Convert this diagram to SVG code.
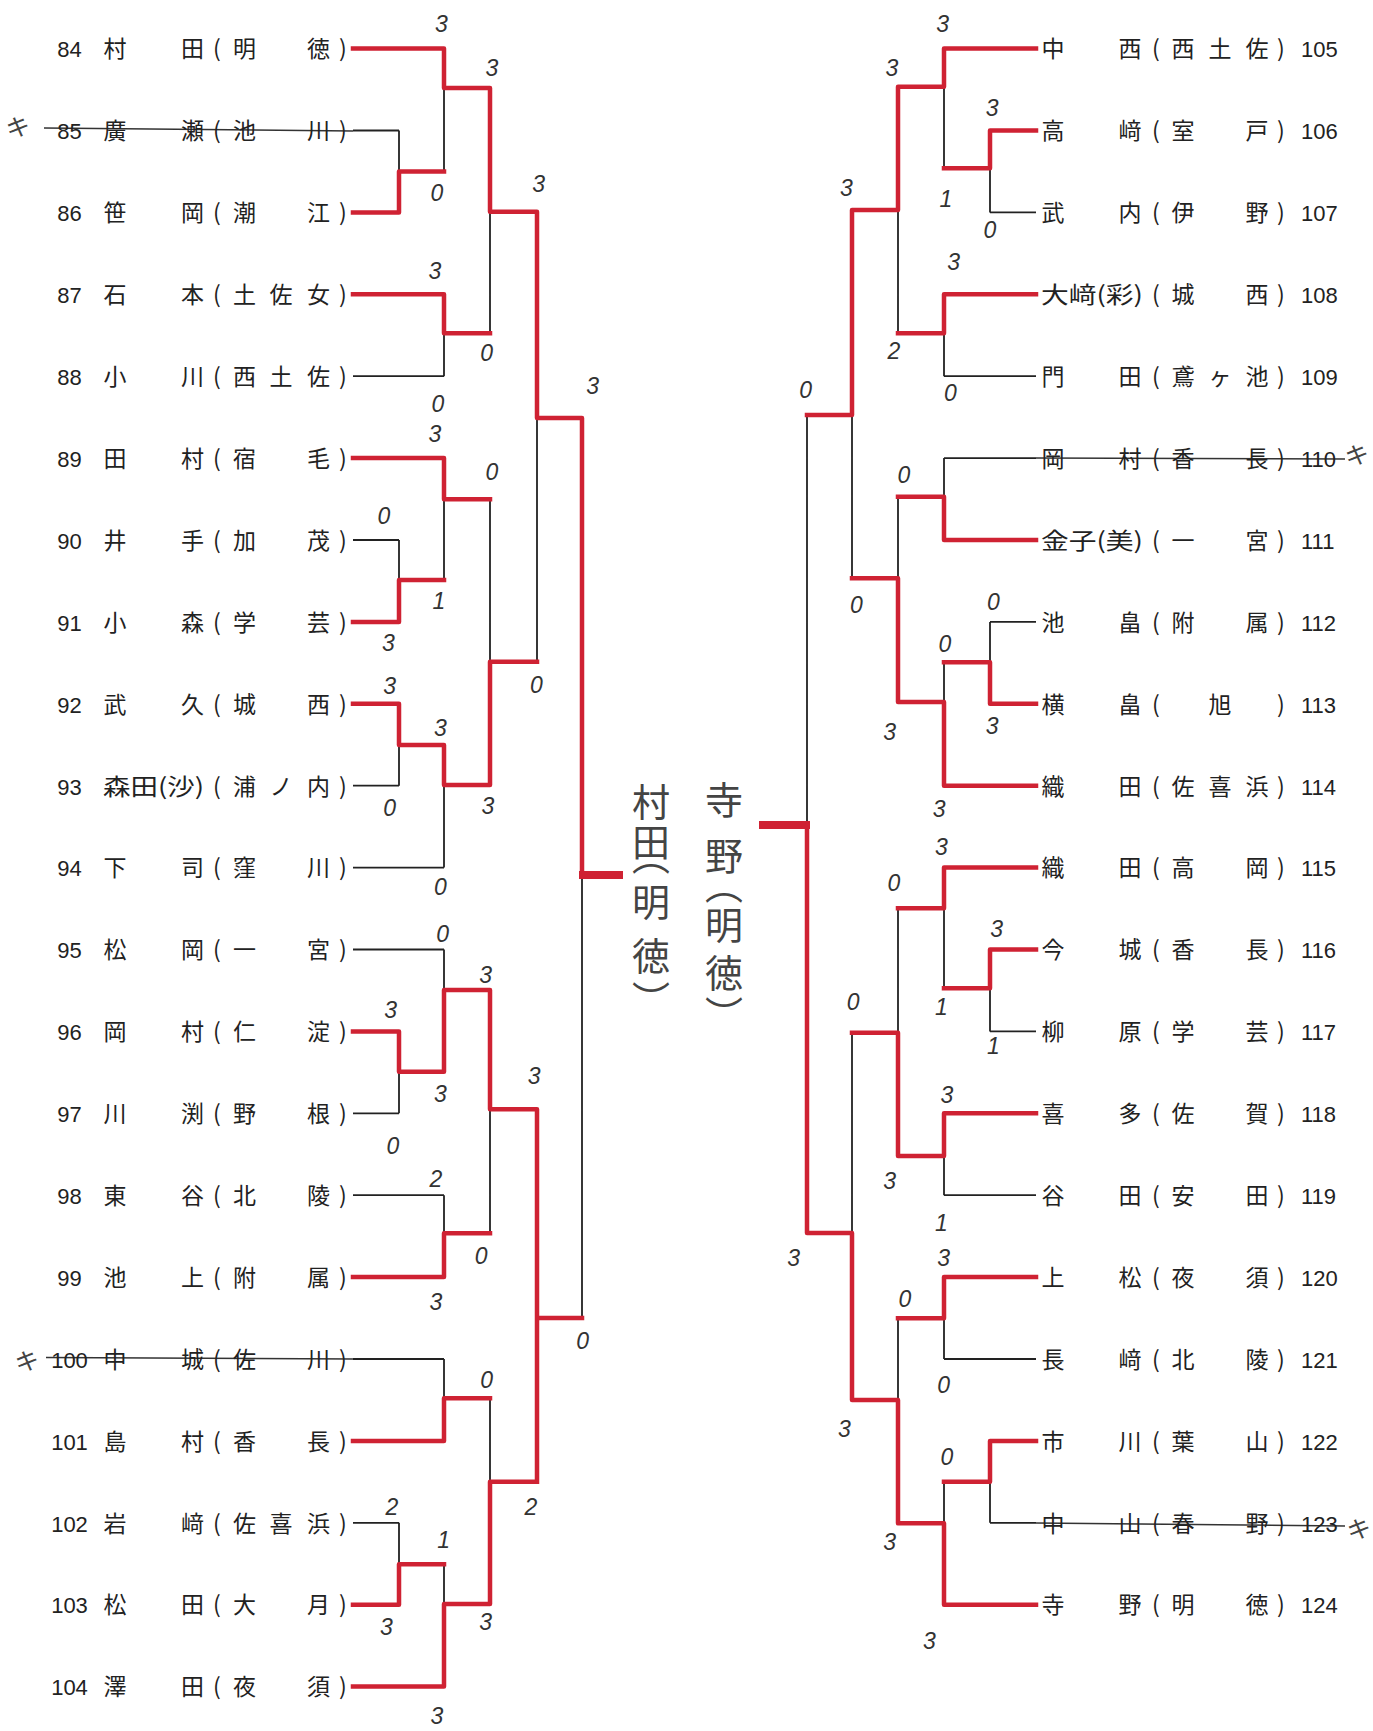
<svg xmlns="http://www.w3.org/2000/svg" width="1373" height="1731" viewBox="0 0 1373 1731">
<style>
.t{font-family:"Noto Sans CJK JP","Noto Sans",sans-serif;font-size:23px;fill:#222;text-anchor:middle}
.num{font-family:"Liberation Sans",Arial,sans-serif;font-size:22px}
.rn{text-anchor:start}
.k{fill:none;stroke:#222;stroke-width:1.8}
.st{fill:none;stroke:#333;stroke-width:1.5}
.r{fill:none;stroke:#cf2233;stroke-width:4.5;stroke-linejoin:round;stroke-linecap:square}
.rf{fill:none;stroke:#cf2233;stroke-width:8}
.sc{font-family:"Liberation Sans",Arial,sans-serif;font-style:italic;font-size:23px;fill:#333;text-anchor:middle}
.ki{font-family:"Noto Sans CJK JP",sans-serif;font-size:24px;fill:#444;text-anchor:middle}
.hwv{font-family:"Noto Sans CJK JP",sans-serif;font-size:38px;fill:#444;text-anchor:middle;writing-mode:vertical-rl}
</style>
<rect width="1373" height="1731" fill="#fff"/>

<g id="connectors">
<path class="k" d="M353 48.6H444M353 130.5H399M353 212.4H399M353 294.3H444M353 376.2H444M353 458.1H444M353 540H399M353 621.9H399M353 703.8H399M353 785.7H399M353 867.6H444M353 949.5H444M353 1031.4H399M353 1113.3H399M353 1195.2H444M353 1277.1H444M353 1359H444M353 1440.9H444M353 1522.8H399M353 1604.7H399M353 1686.6H444
M399 130.5V212.4M399 171.5H444M444 48.6V171.5M444 88H490M444 294.3V376.2M444 333.3H490M490 88V333.3M490 211.7H537
M399 540V621.9M399 580H444M444 458.1V580M444 499.3H490M399 703.8V785.7M399 745H444M444 745V867.6M444 785H490M490 499.3V785M490 661.7H537M537 211.7V661.7M537 418H582M582 418V1318
M399 1031.4V1113.3M399 1071.7H444M444 949.5V1071.7M444 990H490M444 1195.2V1277.1M444 1233.3H490M490 990V1233.3M490 1109.3H537
M444 1359V1440.9M444 1398.3H490M399 1522.8V1604.7M399 1564.3H444M444 1564.3V1686.6M444 1604H490M490 1398.3V1604M490 1481.7H537M537 1109.3V1481.7M537 1318H582"/>
<path class="k" d="M1036 48.6H944M1036 130.5H990M1036 212.4H990M1036 294.3H944M1036 376.2H944M1036 458.1H944M1036 540H944M1036 621.9H990M1036 703.8H990M1036 785.7H944M1036 867.6H944M1036 949.5H990M1036 1031.4H990M1036 1113.3H944M1036 1195.2H944M1036 1277.1H944M1036 1359H944M1036 1440.9H990M1036 1522.8H990M1036 1604.7H944
M990 130.5V212.4M990 168.3H944M944 48.6V168.3M944 86.7H898M944 294.3V376.2M944 333.3H898M898 86.7V333.3M898 210H852
M944 458.1V540M944 496.7H898M990 621.9V703.8M990 662.3H944M944 662.3V785.7M944 702H898M898 496.7V702M898 578.3H852M852 210V578.3M852 415H807M807 415V1233
M990 949.5V1031.4M990 988.3H944M944 867.6V988.3M944 908.3H898M944 1113.3V1195.2M944 1156H898M898 908.3V1156M898 1032.7H852
M944 1277.1V1359M944 1318.3H898M990 1440.9V1522.8M990 1481.7H944M944 1481.7V1604.7M944 1523.3H898M898 1318.3V1523.3M898 1400H852M852 1032.7V1400M852 1233H807"/>
<path class="st" d="M44 128L353 131M46 1357.5L353 1359M1036 458L1345 459M1036 1523L1345 1526"/>
<path class="r" d="M353 48.6H444V88H490V211.7H537V418H582V875
M353 212.4H399V171.5H444
M353 294.3H444V333.3H490
M353 458.1H444V499.3H490
M353 621.9H399V580H444
M353 703.8H399V745H444V785H490V661.7H537
M353 1031.4H399V1071.7H444V990H490V1109.3H537V1481.7
M537 1318H582
M353 1277.1H444V1233.3H490
M353 1440.9H444V1398.3H490
M353 1604.7H399V1564.3H444
M353 1686.6H444V1604H490V1481.7H537"/>
<path class="r" d="M1036 48.6H944V86.7H898V210H852V415H807
M1036 130.5H990V168.3H944
M1036 294.3H944V333.3H898
M1036 540H944V496.7H898
M1036 703.8H990V662.3H944
M1036 785.7H944V702H898V578.3H852
M1036 867.6H944V908.3H898
M1036 949.5H990V988.3H944
M1036 1113.3H944V1156H898V1032.7H852
M1036 1277.1H944V1318.3H898
M1036 1440.9H990V1481.7H944
M1036 1604.7H944V1523.3H898V1400H852V1233H807V825"/>
<path class="rf" d="M579 875H623M810 825H759"/>
</g>

<g id="left-teams">
<g id="n84"><text class="t" y="57"><tspan class="num" x="69.5">84</tspan><tspan x="115">村</tspan><tspan x="192.5">田</tspan><tspan x="217">(</tspan><tspan x="244.5">明</tspan><tspan x="318.5">徳</tspan><tspan x="343">)</tspan></text></g>
<g id="n85"><text class="t" y="139"><tspan class="num" x="69.5">85</tspan><tspan x="115">廣</tspan><tspan x="192.5">瀬</tspan><tspan x="217">(</tspan><tspan x="244.5">池</tspan><tspan x="318.5">川</tspan><tspan x="343">)</tspan></text></g>
<g id="n86"><text class="t" y="221"><tspan class="num" x="69.5">86</tspan><tspan x="115">笹</tspan><tspan x="192.5">岡</tspan><tspan x="217">(</tspan><tspan x="244.5">潮</tspan><tspan x="318.5">江</tspan><tspan x="343">)</tspan></text></g>
<g id="n87"><text class="t" y="303"><tspan class="num" x="69.5">87</tspan><tspan x="115">石</tspan><tspan x="192.5">本</tspan><tspan x="217">(</tspan><tspan x="244.5">土</tspan><tspan x="281">佐</tspan><tspan x="318.5">女</tspan><tspan x="343">)</tspan></text></g>
<g id="n88"><text class="t" y="385"><tspan class="num" x="69.5">88</tspan><tspan x="115">小</tspan><tspan x="192.5">川</tspan><tspan x="217">(</tspan><tspan x="244.5">西</tspan><tspan x="281">土</tspan><tspan x="318.5">佐</tspan><tspan x="343">)</tspan></text></g>
<g id="n89"><text class="t" y="467"><tspan class="num" x="69.5">89</tspan><tspan x="115">田</tspan><tspan x="192.5">村</tspan><tspan x="217">(</tspan><tspan x="244.5">宿</tspan><tspan x="318.5">毛</tspan><tspan x="343">)</tspan></text></g>
<g id="n90"><text class="t" y="549"><tspan class="num" x="69.5">90</tspan><tspan x="115">井</tspan><tspan x="192.5">手</tspan><tspan x="217">(</tspan><tspan x="244.5">加</tspan><tspan x="318.5">茂</tspan><tspan x="343">)</tspan></text></g>
<g id="n91"><text class="t" y="630.5"><tspan class="num" x="69.5">91</tspan><tspan x="115">小</tspan><tspan x="192.5">森</tspan><tspan x="217">(</tspan><tspan x="244.5">学</tspan><tspan x="318.5">芸</tspan><tspan x="343">)</tspan></text></g>
<g id="n92"><text class="t" y="712.5"><tspan class="num" x="69.5">92</tspan><tspan x="115">武</tspan><tspan x="192.5">久</tspan><tspan x="217">(</tspan><tspan x="244.5">城</tspan><tspan x="318.5">西</tspan><tspan x="343">)</tspan></text></g>
<g id="n93"><text class="t" y="794.5"><tspan class="num" x="69.5">93</tspan></text><text class="t" x="103" y="794.5" style="text-anchor:start" textLength="101" lengthAdjust="spacingAndGlyphs">森田(沙)</text><text class="t" y="794.5"><tspan x="217">(</tspan><tspan x="244.5">浦</tspan><tspan x="281">ノ</tspan><tspan x="318.5">内</tspan><tspan x="343">)</tspan></text></g>
<g id="n94"><text class="t" y="876"><tspan class="num" x="69.5">94</tspan><tspan x="115">下</tspan><tspan x="192.5">司</tspan><tspan x="217">(</tspan><tspan x="244.5">窪</tspan><tspan x="318.5">川</tspan><tspan x="343">)</tspan></text></g>
<g id="n95"><text class="t" y="958"><tspan class="num" x="69.5">95</tspan><tspan x="115">松</tspan><tspan x="192.5">岡</tspan><tspan x="217">(</tspan><tspan x="244.5">一</tspan><tspan x="318.5">宮</tspan><tspan x="343">)</tspan></text></g>
<g id="n96"><text class="t" y="1040"><tspan class="num" x="69.5">96</tspan><tspan x="115">岡</tspan><tspan x="192.5">村</tspan><tspan x="217">(</tspan><tspan x="244.5">仁</tspan><tspan x="318.5">淀</tspan><tspan x="343">)</tspan></text></g>
<g id="n97"><text class="t" y="1122"><tspan class="num" x="69.5">97</tspan><tspan x="115">川</tspan><tspan x="192.5">渕</tspan><tspan x="217">(</tspan><tspan x="244.5">野</tspan><tspan x="318.5">根</tspan><tspan x="343">)</tspan></text></g>
<g id="n98"><text class="t" y="1204"><tspan class="num" x="69.5">98</tspan><tspan x="115">東</tspan><tspan x="192.5">谷</tspan><tspan x="217">(</tspan><tspan x="244.5">北</tspan><tspan x="318.5">陵</tspan><tspan x="343">)</tspan></text></g>
<g id="n99"><text class="t" y="1285.5"><tspan class="num" x="69.5">99</tspan><tspan x="115">池</tspan><tspan x="192.5">上</tspan><tspan x="217">(</tspan><tspan x="244.5">附</tspan><tspan x="318.5">属</tspan><tspan x="343">)</tspan></text></g>
<g id="n100"><text class="t" y="1367.5"><tspan class="num" x="69.5">100</tspan><tspan x="115">中</tspan><tspan x="192.5">城</tspan><tspan x="217">(</tspan><tspan x="244.5">佐</tspan><tspan x="318.5">川</tspan><tspan x="343">)</tspan></text></g>
<g id="n101"><text class="t" y="1449.5"><tspan class="num" x="69.5">101</tspan><tspan x="115">島</tspan><tspan x="192.5">村</tspan><tspan x="217">(</tspan><tspan x="244.5">香</tspan><tspan x="318.5">長</tspan><tspan x="343">)</tspan></text></g>
<g id="n102"><text class="t" y="1531.5"><tspan class="num" x="69.5">102</tspan><tspan x="115">岩</tspan><tspan x="192.5">﨑</tspan><tspan x="217">(</tspan><tspan x="244.5">佐</tspan><tspan x="281">喜</tspan><tspan x="318.5">浜</tspan><tspan x="343">)</tspan></text></g>
<g id="n103"><text class="t" y="1613"><tspan class="num" x="69.5">103</tspan><tspan x="115">松</tspan><tspan x="192.5">田</tspan><tspan x="217">(</tspan><tspan x="244.5">大</tspan><tspan x="318.5">月</tspan><tspan x="343">)</tspan></text></g>
<g id="n104"><text class="t" y="1695"><tspan class="num" x="69.5">104</tspan><tspan x="115">澤</tspan><tspan x="192.5">田</tspan><tspan x="217">(</tspan><tspan x="244.5">夜</tspan><tspan x="318.5">須</tspan><tspan x="343">)</tspan></text></g>
</g>

<g id="right-teams">
<g id="n105"><text class="t" y="57"><tspan x="1053">中</tspan><tspan x="1130">西</tspan><tspan x="1156">(</tspan><tspan x="1183">西</tspan><tspan x="1220">土</tspan><tspan x="1257">佐</tspan><tspan x="1281">)</tspan><tspan class="num rn" x="1301">105</tspan></text></g>
<g id="n106"><text class="t" y="139"><tspan x="1053">高</tspan><tspan x="1130">﨑</tspan><tspan x="1156">(</tspan><tspan x="1183">室</tspan><tspan x="1257">戸</tspan><tspan x="1281">)</tspan><tspan class="num rn" x="1301">106</tspan></text></g>
<g id="n107"><text class="t" y="221"><tspan x="1053">武</tspan><tspan x="1130">内</tspan><tspan x="1156">(</tspan><tspan x="1183">伊</tspan><tspan x="1257">野</tspan><tspan x="1281">)</tspan><tspan class="num rn" x="1301">107</tspan></text></g>
<g id="n108"><text class="t" x="1041" y="303" style="text-anchor:start" textLength="102" lengthAdjust="spacingAndGlyphs">大﨑(彩)</text><text class="t" y="303"><tspan x="1156">(</tspan><tspan x="1183">城</tspan><tspan x="1257">西</tspan><tspan x="1281">)</tspan><tspan class="num rn" x="1301">108</tspan></text></g>
<g id="n109"><text class="t" y="385"><tspan x="1053">門</tspan><tspan x="1130">田</tspan><tspan x="1156">(</tspan><tspan x="1183">鳶</tspan><tspan x="1220">ヶ</tspan><tspan x="1257">池</tspan><tspan x="1281">)</tspan><tspan class="num rn" x="1301">109</tspan></text></g>
<g id="n110"><text class="t" y="467"><tspan x="1053">岡</tspan><tspan x="1130">村</tspan><tspan x="1156">(</tspan><tspan x="1183">香</tspan><tspan x="1257">長</tspan><tspan x="1281">)</tspan><tspan class="num rn" x="1301">110</tspan></text></g>
<g id="n111"><text class="t" x="1041" y="549" style="text-anchor:start" textLength="102" lengthAdjust="spacingAndGlyphs">金子(美)</text><text class="t" y="549"><tspan x="1156">(</tspan><tspan x="1183">一</tspan><tspan x="1257">宮</tspan><tspan x="1281">)</tspan><tspan class="num rn" x="1301">111</tspan></text></g>
<g id="n112"><text class="t" y="630.5"><tspan x="1053">池</tspan><tspan x="1130">畠</tspan><tspan x="1156">(</tspan><tspan x="1183">附</tspan><tspan x="1257">属</tspan><tspan x="1281">)</tspan><tspan class="num rn" x="1301">112</tspan></text></g>
<g id="n113"><text class="t" y="712.5"><tspan x="1053">横</tspan><tspan x="1130">畠</tspan><tspan x="1156">(</tspan><tspan x="1220">旭</tspan><tspan x="1281">)</tspan><tspan class="num rn" x="1301">113</tspan></text></g>
<g id="n114"><text class="t" y="794.5"><tspan x="1053">織</tspan><tspan x="1130">田</tspan><tspan x="1156">(</tspan><tspan x="1183">佐</tspan><tspan x="1220">喜</tspan><tspan x="1257">浜</tspan><tspan x="1281">)</tspan><tspan class="num rn" x="1301">114</tspan></text></g>
<g id="n115"><text class="t" y="876"><tspan x="1053">織</tspan><tspan x="1130">田</tspan><tspan x="1156">(</tspan><tspan x="1183">高</tspan><tspan x="1257">岡</tspan><tspan x="1281">)</tspan><tspan class="num rn" x="1301">115</tspan></text></g>
<g id="n116"><text class="t" y="958"><tspan x="1053">今</tspan><tspan x="1130">城</tspan><tspan x="1156">(</tspan><tspan x="1183">香</tspan><tspan x="1257">長</tspan><tspan x="1281">)</tspan><tspan class="num rn" x="1301">116</tspan></text></g>
<g id="n117"><text class="t" y="1040"><tspan x="1053">柳</tspan><tspan x="1130">原</tspan><tspan x="1156">(</tspan><tspan x="1183">学</tspan><tspan x="1257">芸</tspan><tspan x="1281">)</tspan><tspan class="num rn" x="1301">117</tspan></text></g>
<g id="n118"><text class="t" y="1122"><tspan x="1053">喜</tspan><tspan x="1130">多</tspan><tspan x="1156">(</tspan><tspan x="1183">佐</tspan><tspan x="1257">賀</tspan><tspan x="1281">)</tspan><tspan class="num rn" x="1301">118</tspan></text></g>
<g id="n119"><text class="t" y="1204"><tspan x="1053">谷</tspan><tspan x="1130">田</tspan><tspan x="1156">(</tspan><tspan x="1183">安</tspan><tspan x="1257">田</tspan><tspan x="1281">)</tspan><tspan class="num rn" x="1301">119</tspan></text></g>
<g id="n120"><text class="t" y="1285.5"><tspan x="1053">上</tspan><tspan x="1130">松</tspan><tspan x="1156">(</tspan><tspan x="1183">夜</tspan><tspan x="1257">須</tspan><tspan x="1281">)</tspan><tspan class="num rn" x="1301">120</tspan></text></g>
<g id="n121"><text class="t" y="1367.5"><tspan x="1053">長</tspan><tspan x="1130">﨑</tspan><tspan x="1156">(</tspan><tspan x="1183">北</tspan><tspan x="1257">陵</tspan><tspan x="1281">)</tspan><tspan class="num rn" x="1301">121</tspan></text></g>
<g id="n122"><text class="t" y="1449.5"><tspan x="1053">市</tspan><tspan x="1130">川</tspan><tspan x="1156">(</tspan><tspan x="1183">葉</tspan><tspan x="1257">山</tspan><tspan x="1281">)</tspan><tspan class="num rn" x="1301">122</tspan></text></g>
<g id="n123"><text class="t" y="1531.5"><tspan x="1053">中</tspan><tspan x="1130">山</tspan><tspan x="1156">(</tspan><tspan x="1183">春</tspan><tspan x="1257">野</tspan><tspan x="1281">)</tspan><tspan class="num rn" x="1301">123</tspan></text></g>
<g id="n124"><text class="t" y="1613"><tspan x="1053">寺</tspan><tspan x="1130">野</tspan><tspan x="1156">(</tspan><tspan x="1183">明</tspan><tspan x="1257">徳</tspan><tspan x="1281">)</tspan><tspan class="num rn" x="1301">124</tspan></text></g>
</g>

<g id="withdrawn-marks">
<text class="ki" x="18" y="136" transform="rotate(-12 18 128)">キ</text>
<text class="ki" x="27" y="1370" transform="rotate(-12 27 1362)">キ</text>
<text class="ki" x="1357" y="464" transform="rotate(-12 1357 456)">キ</text>
<text class="ki" x="1359" y="1538" transform="rotate(-12 1359 1530)">キ</text>
</g>

<g id="scores-left">
<text class="sc" x="441.5" y="32">3</text>
<text class="sc" x="492" y="76">3</text>
<text class="sc" x="437" y="201">0</text>
<text class="sc" x="538.6" y="192">3</text>
<text class="sc" x="435" y="279">3</text>
<text class="sc" x="486.7" y="361">0</text>
<text class="sc" x="438" y="412">0</text>
<text class="sc" x="592.7" y="394">3</text>
<text class="sc" x="435" y="442">3</text>
<text class="sc" x="492" y="480">0</text>
<text class="sc" x="384" y="524">0</text>
<text class="sc" x="439" y="609">1</text>
<text class="sc" x="388.5" y="651">3</text>
<text class="sc" x="536.4" y="693">0</text>
<text class="sc" x="389.6" y="694">3</text>
<text class="sc" x="440.4" y="736">3</text>
<text class="sc" x="389.6" y="816">0</text>
<text class="sc" x="487.8" y="814">3</text>
<text class="sc" x="440.4" y="895">0</text>
<text class="sc" x="442.6" y="942">0</text>
<text class="sc" x="485.6" y="983">3</text>
<text class="sc" x="390.7" y="1018">3</text>
<text class="sc" x="440.4" y="1102">3</text>
<text class="sc" x="534.2" y="1084">3</text>
<text class="sc" x="393" y="1154">0</text>
<text class="sc" x="436" y="1187">2</text>
<text class="sc" x="481.2" y="1264">0</text>
<text class="sc" x="436" y="1310">3</text>
<text class="sc" x="582.7" y="1349">0</text>
<text class="sc" x="486.7" y="1388">0</text>
<text class="sc" x="530.9" y="1515">2</text>
<text class="sc" x="391.8" y="1515">2</text>
<text class="sc" x="443.7" y="1548">1</text>
<text class="sc" x="386.3" y="1635">3</text>
<text class="sc" x="485.6" y="1630">3</text>
<text class="sc" x="437" y="1724">3</text>
</g>

<g id="scores-right">
<text class="sc" x="942.6" y="32">3</text>
<text class="sc" x="891.8" y="76">3</text>
<text class="sc" x="992.2" y="116">3</text>
<text class="sc" x="945.9" y="207">1</text>
<text class="sc" x="990" y="238">0</text>
<text class="sc" x="846.5" y="196">3</text>
<text class="sc" x="953.6" y="270">3</text>
<text class="sc" x="894" y="359">2</text>
<text class="sc" x="950.3" y="401">0</text>
<text class="sc" x="805.7" y="398">0</text>
<text class="sc" x="904" y="483">0</text>
<text class="sc" x="856.5" y="613">0</text>
<text class="sc" x="993.3" y="610">0</text>
<text class="sc" x="944.8" y="652">0</text>
<text class="sc" x="889.6" y="740">3</text>
<text class="sc" x="992.2" y="734">3</text>
<text class="sc" x="939.2" y="817">3</text>
<text class="sc" x="941.5" y="855">3</text>
<text class="sc" x="894" y="891">0</text>
<text class="sc" x="996.6" y="937">3</text>
<text class="sc" x="853.2" y="1010">0</text>
<text class="sc" x="941.5" y="1015">1</text>
<text class="sc" x="993.3" y="1054">1</text>
<text class="sc" x="947" y="1103">3</text>
<text class="sc" x="889.6" y="1189">3</text>
<text class="sc" x="941.5" y="1231">1</text>
<text class="sc" x="793.6" y="1266">3</text>
<text class="sc" x="943.7" y="1266">3</text>
<text class="sc" x="905" y="1307">0</text>
<text class="sc" x="943.7" y="1393">0</text>
<text class="sc" x="844.3" y="1437">3</text>
<text class="sc" x="947" y="1465">0</text>
<text class="sc" x="889.6" y="1550">3</text>
<text class="sc" x="929.3" y="1649">3</text>
</g>

<g id="winner-left">
<text class="hwv" x="651" y="802 842 856 902 956 1000">村田（明徳）</text>
</g>
<g id="winner-right">
<text class="hwv" x="724" y="800 856 885 925 973 1015">寺野（明徳）</text>
</g>
</svg>
